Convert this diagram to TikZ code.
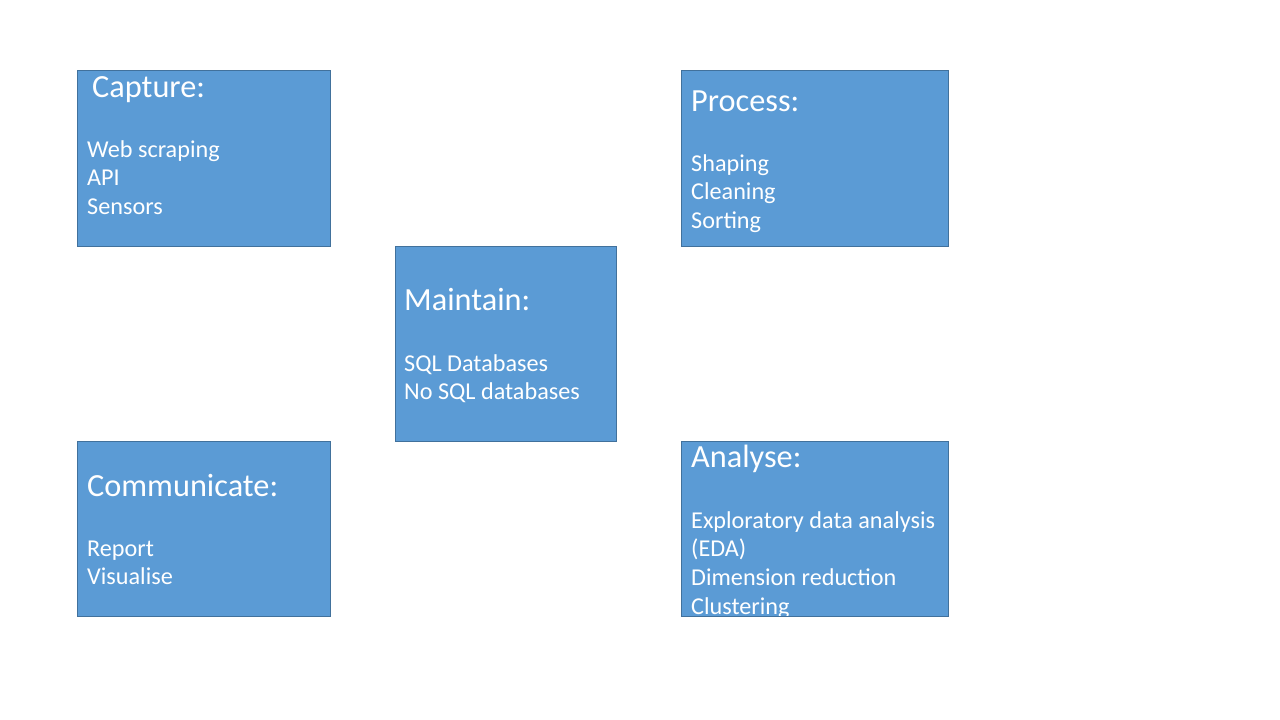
\documentclass[tikz,border=0pt]{standalone}
\usepackage{fontspec}
\setmainfont{Carlito}
\definecolor{boxfill}{HTML}{5B9BD5}
\definecolor{boxline}{HTML}{41719C}
\tikzset{
  x=1pt,y=-1pt,
  card/.style={draw=boxline,fill=boxfill,line width=0.9pt,rectangle},
  head/.style={anchor=base west,inner sep=0pt,text=white,font=\fontsize{32.3}{38}\selectfont},
  body/.style={anchor=base west,inner sep=0pt,text=white,font=\fontsize{24.2}{28.5}\selectfont},
}
\begin{document}
\begin{tikzpicture}
\useasboundingbox[fill=white] (0,0) rectangle (1280,720);
% boxes
\draw[card] (77,70) rectangle (330,246) coordinate (capbox);
\draw[card] (681,70) rectangle (948,246) coordinate (probox);
\draw[card] (395,246) rectangle (616,441) coordinate (mntbox);
\draw[card] (77,441) rectangle (330,616) coordinate (combox);
\draw[card] (681,441) rectangle (948,616) coordinate (anabox);
% Capture
\node[head] (caph) at (92,97) {Capture:};
\node[body] (cap1) at (87,157) {Web scraping};
\node[body] (cap2) at (87,185) {API};
\node[body] (cap3) at (87,214) {Sensors};
% Process
\node[head] (proh) at (691,111) {Process:};
\node[body] (pro1) at (691,171) {Shaping};
\node[body] (pro2) at (691,199) {Cleaning};
\node[body] (pro3) at (691,228) {Sorting};
% Maintain
\node[head] (mnth) at (404,310) {Maintain:};
\node[body] (mnt1) at (404,371) {SQL Databases};
\node[body] (mnt2) at (404,399) {No SQL databases};
% Communicate
\node[head] (comh) at (87,496) {Communicate:};
\node[body] (com1) at (87,556) {Report};
\node[body] (com2) at (87,584) {Visualise};
% Analyse
\begin{scope}
\clip (681,441) rectangle (948,615.5);
\node[head] (anah) at (691,467) {Analyse:};
\node[body] (ana1) at (691,528) {Exploratory data analysis};
\node[body] (ana2) at (691,556) {(EDA)};
\node[body] (ana3) at (691,585) {Dimension reduction};
\node[body] (ana4) at (691,614) {Clustering};
\end{scope}
\draw[draw=boxline,line width=0.9pt] (681,616) -- (948,616);
\end{tikzpicture}
\end{document}
